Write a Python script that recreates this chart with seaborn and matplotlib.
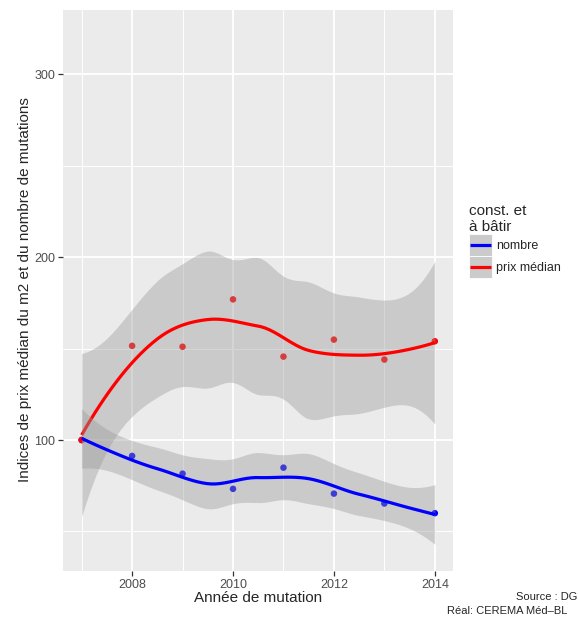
import math
import numpy as np
import pandas as pd
import seaborn as sns
import matplotlib
matplotlib.use('Agg')
import matplotlib.pyplot as plt
from matplotlib.patches import Rectangle
from matplotlib.lines import Line2D
from matplotlib.legend_handler import HandlerBase

# Data (indices, base 100 in 2007)
annees = [2007, 2008, 2009, 2010, 2011, 2012, 2013, 2014]
nombre = [100, 91.3, 81.6, 73.3, 84.9, 70.7, 65.3, 60.0]
prix_median = [100, 151.5, 151.0, 176.9, 145.6, 154.9, 144.0, 154.0]
series = ['nombre', 'prix médian']
couleurs = {'nombre': '#0000FF', 'prix médian': '#FF0000'}

df = pd.DataFrame({
    'annee': annees * 2,
    'indice': nombre + prix_median,
    'serie': ['nombre'] * len(annees) + ['prix médian'] * len(annees),
})


def t_quantile(p, nu):
    # quantile of Student t, via numeric integration of the density
    t = np.linspace(0, 40, 400001)
    c = math.gamma((nu + 1) / 2) / (math.sqrt(nu * math.pi) * math.gamma(nu / 2))
    pdf = c * (1 + t ** 2 / nu) ** (-(nu + 1) / 2)
    cdf = 0.5 + np.concatenate([[0], np.cumsum((pdf[1:] + pdf[:-1]) / 2 * np.diff(t))])
    return float(np.interp(p, cdf, t))


def kd_vertices(x):
    # 1-d version of loess kd-tree (fc = 1): box ends + midpoints between points
    xs = np.sort(x)
    mu = 0.005 * (xs[-1] - xs[0])
    mids = (xs[1:] + xs[:-1]) / 2
    return np.concatenate([[xs[0] - mu], mids, [xs[-1] + mu]])


def loess(x, y, xg, span=0.75, degree=2):
    # local quadratic regression like R's loess(surface="interpolate"), 95% band
    x = np.asarray(x, float)
    y = np.asarray(y, float)
    n = len(x)
    q = int(np.floor(n * span))

    def rows(x0):
        d = np.abs(x - x0)
        h = np.sort(d)[q - 1]
        w = np.clip(1 - (d / h) ** 3, 0, None) ** 3
        X = np.vander(x - x0, degree + 1, increasing=True)
        XtW = X.T * w
        B = np.linalg.solve(XtW @ X, XtW)
        return B[0], B[1]

    vert = kd_vertices(x)
    V0, V1 = zip(*[rows(v) for v in vert])
    V0, V1 = np.array(V0), np.array(V1)

    def interp(xq):
        out = []
        for x0 in np.atleast_1d(xq):
            i = min(np.searchsorted(vert, x0, side='right') - 1, len(vert) - 2)
            h = vert[i + 1] - vert[i]
            t = (x0 - vert[i]) / h
            h00 = 2 * t ** 3 - 3 * t ** 2 + 1
            h10 = t ** 3 - 2 * t ** 2 + t
            h01 = -2 * t ** 3 + 3 * t ** 2
            h11 = t ** 3 - t ** 2
            out.append(h00 * V0[i] + h10 * h * V1[i] + h01 * V0[i + 1] + h11 * h * V1[i + 1])
        return np.array(out)

    L = interp(x)
    Lg = interp(xg)
    fit = Lg @ y
    R = np.eye(n) - L
    RR = R.T @ R
    delta1 = np.trace(RR)
    delta2 = np.trace(RR @ RR)
    sigma = np.sqrt(np.sum((R @ y) ** 2) / delta1)
    ddl = delta1 ** 2 / delta2
    se = sigma * np.sqrt(np.sum(Lg ** 2, axis=1))
    tq = t_quantile(0.975, ddl)
    return fit, fit - tq * se, fit + tq * se


class HandlerKey(HandlerBase):
    # ggplot-like key: grey square with the coloured line across the middle
    def create_artists(self, legend, orig_handle, xdescent, ydescent, width, height,
                       fontsize, trans):
        rect = Rectangle((-xdescent, -ydescent), width, height, fc='#CBCBCB',
                         ec='white', lw=0.6, transform=trans)
        ym = -ydescent + height / 2
        line = Line2D([-xdescent + 1, -xdescent + width - 1], [ym, ym],
                      color=orig_handle.get_color(), lw=2.3, transform=trans,
                      solid_capstyle='butt')
        return [rect, line]


sns.set_style('darkgrid', {'axes.facecolor': '#EBEBEB', 'grid.color': 'white'})
plt.rcParams['font.family'] = ['Liberation Sans', 'DejaVu Sans']

fig = plt.figure(figsize=(5.78, 6.17), dpi=100)
ax = fig.add_axes([0.109, 0.0746, 0.7837 - 0.109, 0.9843 - 0.0746])

# points first, the ribbons are drawn over them
sns.scatterplot(data=df, x='annee', y='indice', hue='serie', palette=couleurs,
                s=22, edgecolor='none', legend=False, ax=ax, zorder=2)

xg = np.linspace(min(annees), max(annees), 80)
for i, serie in enumerate(['prix médian', 'nombre']):
    sub = df[df['serie'] == serie]
    fit, lo, hi = loess(sub['annee'], sub['indice'], xg)
    ax.fill_between(xg, lo, hi, color='#999999', alpha=0.4, lw=0, zorder=3 + 2 * i)
    ax.plot(xg, fit, color=couleurs[serie], lw=2.3, zorder=4 + 2 * i,
            solid_capstyle='butt')

ax.set_xlim(2006.63, 2014.36)
ax.set_ylim(28.4, 335.3)
ax.set_xticks([2008, 2010, 2012, 2014])
ax.set_xticks([2007, 2009, 2011, 2013], minor=True)
ax.set_yticks([100, 200, 300])
ax.set_yticks([50, 150, 250], minor=True)
ax.grid(which='major', color='white', lw=1.3)
ax.grid(which='minor', color='white', lw=0.7)
ax.tick_params(which='major', length=3.5, width=0.9, color='#333333',
               labelsize=9, labelcolor='#4D4D4D', pad=2, bottom=True, left=True)
ax.tick_params(which='minor', length=0)
ax.set_xlabel('')
ax.set_ylabel('')
for s in ax.spines.values():
    s.set_visible(False)

fig.text(258 / 578, 1 - 598 / 617, 'Année de mutation', ha='center', va='center',
         fontsize=11)
fig.text(25 / 578, 1 - 290 / 617,
         'Indices de prix médian du m2 et du nombre de mutations',
         ha='center', va='center', rotation=90, fontsize=11)

# legend with grey keys like ggplot
handles = [Line2D([], [], color=couleurs[s]) for s in series]
leg = fig.legend(handles, series, title='const. et\nà bâtir',
                 handler_map={Line2D: HandlerKey()},
                 loc='upper left', bbox_to_anchor=(469 / 578, 1 - 204 / 617),
                 frameon=False, fontsize=9, title_fontsize=11,
                 handlelength=1.85, handleheight=2.3, labelspacing=0.0,
                 handletextpad=0.35, borderpad=0, borderaxespad=0,
                 alignment='left')

# captions at the bottom right, as far as they show in the source image
fig.text(577 / 578, 1 - 597 / 617, 'Source : DG', ha='right', va='center',
         fontsize=8)
fig.text(447 / 578, 1 - 611 / 617, 'Réal: CEREMA Méd–BL', ha='left', va='center',
         fontsize=8)

fig.savefig('out.png', dpi=100)
